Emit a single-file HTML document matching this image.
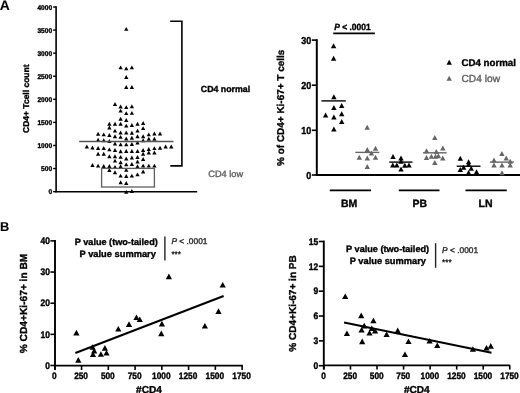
<!DOCTYPE html>
<html><head><meta charset="utf-8"><style>
html,body{margin:0;padding:0;background:#fff;width:520px;height:393px;overflow:hidden;}
svg{display:block;font-family:"Liberation Sans", sans-serif;text-rendering:geometricPrecision;}
body{-webkit-font-smoothing:antialiased;}
.wrap{will-change:transform;}
</style></head><body>
<div class="wrap"><svg width="520" height="393" viewBox="0 0 520 393">
<rect width="520" height="393" fill="#fff"/>
<text x="-0.2" y="9.7" font-size="13.9" font-weight="bold" font-style="normal" text-anchor="start" fill="#000" stroke="#000" stroke-width="0.1" >A</text>
<line x1="56.1" y1="6.3" x2="56.1" y2="192.3" stroke="#000" stroke-width="1.6"/>
<line x1="55.3" y1="191.7" x2="197.2" y2="191.7" stroke="#000" stroke-width="1.5"/>
<line x1="53.1" y1="7.0" x2="56.1" y2="7.0" stroke="#000" stroke-width="1.4"/>
<text x="0" y="0" font-size="6.6" font-weight="bold" font-style="normal" text-anchor="end" fill="#000" stroke="#000" stroke-width="0.35" transform="translate(52.1,9.6) scale(1,1.06)">4000</text>
<line x1="53.1" y1="30.08" x2="56.1" y2="30.08" stroke="#000" stroke-width="1.4"/>
<text x="0" y="0" font-size="6.6" font-weight="bold" font-style="normal" text-anchor="end" fill="#000" stroke="#000" stroke-width="0.35" transform="translate(52.1,32.68) scale(1,1.06)">3500</text>
<line x1="53.1" y1="53.16" x2="56.1" y2="53.16" stroke="#000" stroke-width="1.4"/>
<text x="0" y="0" font-size="6.6" font-weight="bold" font-style="normal" text-anchor="end" fill="#000" stroke="#000" stroke-width="0.35" transform="translate(52.1,55.76) scale(1,1.06)">3000</text>
<line x1="53.1" y1="76.24" x2="56.1" y2="76.24" stroke="#000" stroke-width="1.4"/>
<text x="0" y="0" font-size="6.6" font-weight="bold" font-style="normal" text-anchor="end" fill="#000" stroke="#000" stroke-width="0.35" transform="translate(52.1,78.83999999999999) scale(1,1.06)">2500</text>
<line x1="53.1" y1="99.32" x2="56.1" y2="99.32" stroke="#000" stroke-width="1.4"/>
<text x="0" y="0" font-size="6.6" font-weight="bold" font-style="normal" text-anchor="end" fill="#000" stroke="#000" stroke-width="0.35" transform="translate(52.1,101.91999999999999) scale(1,1.06)">2000</text>
<line x1="53.1" y1="122.39999999999999" x2="56.1" y2="122.39999999999999" stroke="#000" stroke-width="1.4"/>
<text x="0" y="0" font-size="6.6" font-weight="bold" font-style="normal" text-anchor="end" fill="#000" stroke="#000" stroke-width="0.35" transform="translate(52.1,124.99999999999999) scale(1,1.06)">1500</text>
<line x1="53.1" y1="145.48" x2="56.1" y2="145.48" stroke="#000" stroke-width="1.4"/>
<text x="0" y="0" font-size="6.6" font-weight="bold" font-style="normal" text-anchor="end" fill="#000" stroke="#000" stroke-width="0.35" transform="translate(52.1,148.07999999999998) scale(1,1.06)">1000</text>
<line x1="53.1" y1="168.56" x2="56.1" y2="168.56" stroke="#000" stroke-width="1.4"/>
<text x="0" y="0" font-size="6.6" font-weight="bold" font-style="normal" text-anchor="end" fill="#000" stroke="#000" stroke-width="0.35" transform="translate(52.1,171.16) scale(1,1.06)">500</text>
<line x1="53.1" y1="191.64" x2="56.1" y2="191.64" stroke="#000" stroke-width="1.4"/>
<text x="0" y="0" font-size="6.6" font-weight="bold" font-style="normal" text-anchor="end" fill="#000" stroke="#000" stroke-width="0.35" transform="translate(52.1,194.23999999999998) scale(1,1.06)">0</text>
<text x="0" y="0" font-size="8.5" font-weight="bold" font-style="normal" text-anchor="middle" fill="#000" stroke="#000" stroke-width="0.35" transform="translate(29.2,98.7) rotate(-90)">CD4+ Tcell count</text>
<path d="M126.25 26.90L128.40 30.70L124.10 30.70Z" fill="#000"/>
<path d="M120.62 65.50L122.77 69.30L118.47 69.30Z" fill="#000"/>
<path d="M126.25 66.40L128.40 70.20L124.10 70.20Z" fill="#000"/>
<path d="M131.88 65.50L134.03 69.30L129.73 69.30Z" fill="#000"/>
<path d="M126.25 75.10L128.40 78.90L124.10 78.90Z" fill="#000"/>
<path d="M126.25 85.10L128.40 88.90L124.10 88.90Z" fill="#000"/>
<path d="M131.88 85.10L134.03 88.90L129.73 88.90Z" fill="#000"/>
<path d="M114.99 102.10L117.14 105.90L112.84 105.90Z" fill="#000"/>
<path d="M120.62 104.60L122.77 108.40L118.47 108.40Z" fill="#000"/>
<path d="M126.25 105.20L128.40 109.00L124.10 109.00Z" fill="#000"/>
<path d="M131.88 104.35L134.03 108.15L129.73 108.15Z" fill="#000"/>
<path d="M120.62 108.70L122.77 112.50L118.47 112.50Z" fill="#000"/>
<path d="M126.25 111.20L128.40 115.00L124.10 115.00Z" fill="#000"/>
<path d="M131.88 111.00L134.03 114.80L129.73 114.80Z" fill="#000"/>
<path d="M120.62 116.85L122.77 120.65L118.47 120.65Z" fill="#000"/>
<path d="M126.25 118.10L128.40 121.90L124.10 121.90Z" fill="#000"/>
<path d="M109.36 121.85L111.51 125.65L107.21 125.65Z" fill="#000"/>
<path d="M114.99 121.85L117.14 125.65L112.84 125.65Z" fill="#000"/>
<path d="M120.62 121.85L122.77 125.65L118.47 125.65Z" fill="#000"/>
<path d="M126.25 123.70L128.40 127.50L124.10 127.50Z" fill="#000"/>
<path d="M131.88 123.10L134.03 126.90L129.73 126.90Z" fill="#000"/>
<path d="M137.51 121.85L139.66 125.65L135.36 125.65Z" fill="#000"/>
<path d="M143.14 121.10L145.29 124.90L140.99 124.90Z" fill="#000"/>
<path d="M109.36 125.60L111.51 129.40L107.21 129.40Z" fill="#000"/>
<path d="M143.14 126.20L145.29 130.00L140.99 130.00Z" fill="#000"/>
<path d="M114.99 128.70L117.14 132.50L112.84 132.50Z" fill="#000"/>
<path d="M120.62 130.60L122.77 134.40L118.47 134.40Z" fill="#000"/>
<path d="M126.25 130.60L128.40 134.40L124.10 134.40Z" fill="#000"/>
<path d="M131.88 130.85L134.03 134.65L129.73 134.65Z" fill="#000"/>
<path d="M137.51 128.70L139.66 132.50L135.36 132.50Z" fill="#000"/>
<path d="M98.10 131.85L100.25 135.65L95.95 135.65Z" fill="#000"/>
<path d="M103.73 132.50L105.88 136.30L101.58 136.30Z" fill="#000"/>
<path d="M109.36 133.10L111.51 136.90L107.21 136.90Z" fill="#000"/>
<path d="M148.77 132.50L150.92 136.30L146.62 136.30Z" fill="#000"/>
<path d="M154.40 131.60L156.55 135.40L152.25 135.40Z" fill="#000"/>
<path d="M160.03 131.60L162.18 135.40L157.88 135.40Z" fill="#000"/>
<path d="M114.99 134.35L117.14 138.15L112.84 138.15Z" fill="#000"/>
<path d="M120.62 135.00L122.77 138.80L118.47 138.80Z" fill="#000"/>
<path d="M126.25 136.60L128.40 140.40L124.10 140.40Z" fill="#000"/>
<path d="M131.88 135.85L134.03 139.65L129.73 139.65Z" fill="#000"/>
<path d="M137.51 134.35L139.66 138.15L135.36 138.15Z" fill="#000"/>
<path d="M143.14 134.35L145.29 138.15L140.99 138.15Z" fill="#000"/>
<path d="M98.10 137.85L100.25 141.65L95.95 141.65Z" fill="#000"/>
<path d="M103.73 138.35L105.88 142.15L101.58 142.15Z" fill="#000"/>
<path d="M109.36 139.10L111.51 142.90L107.21 142.90Z" fill="#000"/>
<path d="M148.77 136.85L150.92 140.65L146.62 140.65Z" fill="#000"/>
<path d="M154.40 136.85L156.55 140.65L152.25 140.65Z" fill="#000"/>
<path d="M143.14 138.35L145.29 142.15L140.99 142.15Z" fill="#000"/>
<path d="M114.99 141.60L117.14 145.40L112.84 145.40Z" fill="#000"/>
<path d="M120.62 142.50L122.77 146.30L118.47 146.30Z" fill="#000"/>
<path d="M126.25 142.50L128.40 146.30L124.10 146.30Z" fill="#000"/>
<path d="M131.88 142.10L134.03 145.90L129.73 145.90Z" fill="#000"/>
<path d="M137.51 140.60L139.66 144.40L135.36 144.40Z" fill="#000"/>
<path d="M86.84 144.60L88.99 148.40L84.69 148.40Z" fill="#000"/>
<path d="M92.47 145.60L94.62 149.40L90.32 149.40Z" fill="#000"/>
<path d="M98.10 146.10L100.25 149.90L95.95 149.90Z" fill="#000"/>
<path d="M103.73 146.10L105.88 149.90L101.58 149.90Z" fill="#000"/>
<path d="M109.36 147.50L111.51 151.30L107.21 151.30Z" fill="#000"/>
<path d="M165.66 144.60L167.81 148.40L163.51 148.40Z" fill="#000"/>
<path d="M171.29 144.60L173.44 148.40L169.14 148.40Z" fill="#000"/>
<path d="M160.03 145.85L162.18 149.65L157.88 149.65Z" fill="#000"/>
<path d="M154.40 146.20L156.55 150.00L152.25 150.00Z" fill="#000"/>
<path d="M148.77 147.10L150.92 150.90L146.62 150.90Z" fill="#000"/>
<path d="M143.14 148.10L145.29 151.90L140.99 151.90Z" fill="#000"/>
<path d="M114.99 148.10L117.14 151.90L112.84 151.90Z" fill="#000"/>
<path d="M120.62 149.35L122.77 153.15L118.47 153.15Z" fill="#000"/>
<path d="M126.25 149.10L128.40 152.90L124.10 152.90Z" fill="#000"/>
<path d="M131.88 149.10L134.03 152.90L129.73 152.90Z" fill="#000"/>
<path d="M137.51 149.10L139.66 152.90L135.36 152.90Z" fill="#000"/>
<path d="M98.10 151.85L100.25 155.65L95.95 155.65Z" fill="#000"/>
<path d="M103.73 151.85L105.88 155.65L101.58 155.65Z" fill="#000"/>
<path d="M143.14 151.85L145.29 155.65L140.99 155.65Z" fill="#000"/>
<path d="M148.77 150.60L150.92 154.40L146.62 154.40Z" fill="#000"/>
<path d="M154.40 150.60L156.55 154.40L152.25 154.40Z" fill="#000"/>
<path d="M109.36 154.35L111.51 158.15L107.21 158.15Z" fill="#000"/>
<path d="M114.99 154.35L117.14 158.15L112.84 158.15Z" fill="#000"/>
<path d="M120.62 155.00L122.77 158.80L118.47 158.80Z" fill="#000"/>
<path d="M126.25 156.60L128.40 160.40L124.10 160.40Z" fill="#000"/>
<path d="M131.88 155.60L134.03 159.40L129.73 159.40Z" fill="#000"/>
<path d="M137.51 155.10L139.66 158.90L135.36 158.90Z" fill="#000"/>
<path d="M143.14 157.10L145.29 160.90L140.99 160.90Z" fill="#000"/>
<path d="M114.99 158.70L117.14 162.50L112.84 162.50Z" fill="#000"/>
<path d="M120.62 160.35L122.77 164.15L118.47 164.15Z" fill="#000"/>
<path d="M126.25 162.50L128.40 166.30L124.10 166.30Z" fill="#000"/>
<path d="M131.88 162.10L134.03 165.90L129.73 165.90Z" fill="#000"/>
<path d="M137.51 159.60L139.66 163.40L135.36 163.40Z" fill="#000"/>
<path d="M92.47 163.10L94.62 166.90L90.32 166.90Z" fill="#000"/>
<path d="M98.10 163.70L100.25 167.50L95.95 167.50Z" fill="#000"/>
<path d="M103.73 164.10L105.88 167.90L101.58 167.90Z" fill="#000"/>
<path d="M109.36 164.10L111.51 167.90L107.21 167.90Z" fill="#000"/>
<path d="M114.99 165.00L117.14 168.80L112.84 168.80Z" fill="#000"/>
<path d="M120.62 164.35L122.77 168.15L118.47 168.15Z" fill="#000"/>
<path d="M137.51 164.35L139.66 168.15L135.36 168.15Z" fill="#000"/>
<path d="M143.14 163.70L145.29 167.50L140.99 167.50Z" fill="#000"/>
<path d="M148.77 163.70L150.92 167.50L146.62 167.50Z" fill="#000"/>
<path d="M154.40 163.70L156.55 167.50L152.25 167.50Z" fill="#000"/>
<path d="M109.36 168.10L111.51 171.90L107.21 171.90Z" fill="#000"/>
<path d="M126.25 167.85L128.40 171.65L124.10 171.65Z" fill="#000"/>
<path d="M114.99 170.35L117.14 174.15L112.84 174.15Z" fill="#000"/>
<path d="M143.14 169.60L145.29 173.40L140.99 173.40Z" fill="#000"/>
<path d="M120.62 173.70L122.77 177.50L118.47 177.50Z" fill="#000"/>
<path d="M126.25 174.10L128.40 177.90L124.10 177.90Z" fill="#000"/>
<path d="M131.88 173.70L134.03 177.50L129.73 177.50Z" fill="#000"/>
<path d="M137.51 172.50L139.66 176.30L135.36 176.30Z" fill="#000"/>
<path d="M120.62 180.35L122.77 184.15L118.47 184.15Z" fill="#000"/>
<path d="M126.25 181.10L128.40 184.90L124.10 184.90Z" fill="#000"/>
<path d="M126.25 190.00L128.40 193.80L124.10 193.80Z" fill="#000"/>
<path d="M131.88 189.10L134.03 192.90L129.73 192.90Z" fill="#000"/>
<line x1="79.2" y1="141.5" x2="173.5" y2="141.5" stroke="#555" stroke-width="1.3"/>
<rect x="101.6" y="168.4" width="52.8" height="18.6" fill="none" stroke="#5e5e5e" stroke-width="1.3"/>
<path d="M170.2 21.2H181.9V165.9H170.3" fill="none" stroke="#000" stroke-width="1.6"/>
<text x="200.79999999999998" y="91.5" font-size="8.8" font-weight="bold" font-style="normal" text-anchor="start" fill="#000" stroke="#000" stroke-width="0.35" >CD4 normal</text>
<text x="208.29999999999998" y="176.5" font-size="9.2" font-weight="normal" font-style="normal" text-anchor="start" fill="#606060" stroke="#606060" stroke-width="0.35" >CD4 low</text>
<line x1="316.8" y1="39.2" x2="316.8" y2="175.6" stroke="#000" stroke-width="2.0"/>
<line x1="315.8" y1="174.9" x2="520" y2="174.9" stroke="#000" stroke-width="2.0"/>
<line x1="311.8" y1="40.1" x2="316.8" y2="40.1" stroke="#000" stroke-width="1.6"/>
<text x="0" y="0" font-size="9.0" font-weight="bold" font-style="normal" text-anchor="end" fill="#000" stroke="#000" stroke-width="0.35" transform="translate(311.2,43.800000000000004) scale(1,1.12)">30</text>
<line x1="311.8" y1="85.2" x2="316.8" y2="85.2" stroke="#000" stroke-width="1.6"/>
<text x="0" y="0" font-size="9.0" font-weight="bold" font-style="normal" text-anchor="end" fill="#000" stroke="#000" stroke-width="0.35" transform="translate(311.2,88.9) scale(1,1.12)">20</text>
<line x1="311.8" y1="130.3" x2="316.8" y2="130.3" stroke="#000" stroke-width="1.6"/>
<text x="0" y="0" font-size="9.0" font-weight="bold" font-style="normal" text-anchor="end" fill="#000" stroke="#000" stroke-width="0.35" transform="translate(311.2,134.0) scale(1,1.12)">10</text>
<line x1="311.8" y1="175.0" x2="316.8" y2="175.0" stroke="#000" stroke-width="1.6"/>
<text x="0" y="0" font-size="9.0" font-weight="bold" font-style="normal" text-anchor="end" fill="#000" stroke="#000" stroke-width="0.35" transform="translate(311.2,178.7) scale(1,1.12)">0</text>
<text x="0" y="0" font-size="9.96" font-weight="bold" font-style="normal" text-anchor="middle" fill="#000" stroke="#000" stroke-width="0.35" transform="translate(283.8,107.8) rotate(-90)">% of CD4+ Ki-67+ T cells</text>
<text x="0" y="0" font-size="8.45" font-weight="bold" font-style="normal" text-anchor="start" fill="#000" stroke="#000" stroke-width="0.35" transform="translate(334.2,29.8) scale(1,1.06)"><tspan font-style="italic">P</tspan> &lt; .0001</text>
<line x1="333.3" y1="33.4" x2="374.9" y2="33.4" stroke="#000" stroke-width="1.6"/>
<line x1="329.8" y1="190.3" x2="371" y2="190.3" stroke="#000" stroke-width="1.8"/>
<text x="349.1" y="206.8" font-size="10.5" font-weight="bold" font-style="normal" text-anchor="middle" fill="#000" stroke="#000" stroke-width="0.35" >BM</text>
<line x1="398.8" y1="190.3" x2="439.5" y2="190.3" stroke="#000" stroke-width="1.8"/>
<text x="419.75" y="206.8" font-size="10.5" font-weight="bold" font-style="normal" text-anchor="middle" fill="#000" stroke="#000" stroke-width="0.35" >PB</text>
<line x1="465.5" y1="190.3" x2="506.8" y2="190.3" stroke="#000" stroke-width="1.8"/>
<text x="485.6" y="206.8" font-size="10.5" font-weight="bold" font-style="normal" text-anchor="middle" fill="#000" stroke="#000" stroke-width="0.35" >LN</text>
<path d="M449.20 59.80L451.90 64.80L446.50 64.80Z" fill="#000"/>
<text x="461.4" y="65.5" font-size="9.73" font-weight="bold" font-style="normal" text-anchor="start" fill="#000" stroke="#000" stroke-width="0.35" >CD4 normal</text>
<path d="M449.20 75.80L451.90 80.80L446.50 80.80Z" fill="#666"/>
<text x="461.5" y="81.5" font-size="10.2" font-weight="normal" font-style="normal" text-anchor="start" fill="#606060" stroke="#606060" stroke-width="0.35" >CD4 low</text>
<line x1="321.4" y1="100.9" x2="345.8" y2="100.9" stroke="#000" stroke-width="1.4"/>
<path d="M333.60 43.25L336.30 48.25L330.90 48.25Z" fill="#000"/>
<path d="M333.60 55.70L336.30 60.70L330.90 60.70Z" fill="#000"/>
<path d="M333.90 94.30L336.60 99.30L331.20 99.30Z" fill="#000"/>
<path d="M341.70 102.90L344.40 107.90L339.00 107.90Z" fill="#000"/>
<path d="M333.90 105.10L336.60 110.10L331.20 110.10Z" fill="#000"/>
<path d="M341.70 111.30L344.40 116.30L339.00 116.30Z" fill="#000"/>
<path d="M325.60 112.40L328.30 117.40L322.90 117.40Z" fill="#000"/>
<path d="M333.90 114.60L336.60 119.60L331.20 119.60Z" fill="#000"/>
<path d="M341.70 118.90L344.40 123.90L339.00 123.90Z" fill="#000"/>
<path d="M333.90 126.40L336.60 131.40L331.20 131.40Z" fill="#000"/>
<line x1="355.3" y1="152.4" x2="379.3" y2="152.4" stroke="#666" stroke-width="1.4"/>
<path d="M367.20 124.80L369.90 129.80L364.50 129.80Z" fill="#666"/>
<path d="M367.30 146.90L370.00 151.90L364.60 151.90Z" fill="#666"/>
<path d="M375.50 145.70L378.20 150.70L372.80 150.70Z" fill="#666"/>
<path d="M371.40 150.60L374.10 155.60L368.70 155.60Z" fill="#666"/>
<path d="M359.30 154.70L362.00 159.70L356.60 159.70Z" fill="#666"/>
<path d="M367.30 155.50L370.00 160.50L364.60 160.50Z" fill="#666"/>
<path d="M375.50 154.70L378.20 159.70L372.80 159.70Z" fill="#666"/>
<path d="M367.30 164.00L370.00 169.00L364.60 169.00Z" fill="#666"/>
<line x1="389.3" y1="162.1" x2="412.5" y2="162.1" stroke="#000" stroke-width="1.4"/>
<path d="M393.00 154.10L395.70 159.10L390.30 159.10Z" fill="#000"/>
<path d="M401.00 155.40L403.70 160.40L398.30 160.40Z" fill="#000"/>
<path d="M401.00 158.80L403.70 163.80L398.30 163.80Z" fill="#000"/>
<path d="M392.80 162.40L395.50 167.40L390.10 167.40Z" fill="#000"/>
<path d="M396.80 162.40L399.50 167.40L394.10 167.40Z" fill="#000"/>
<path d="M404.80 162.70L407.50 167.70L402.10 167.70Z" fill="#000"/>
<path d="M409.00 162.40L411.70 167.40L406.30 167.40Z" fill="#000"/>
<path d="M401.00 166.50L403.70 171.50L398.30 171.50Z" fill="#000"/>
<line x1="422.9" y1="152.8" x2="446.6" y2="152.8" stroke="#666" stroke-width="1.4"/>
<path d="M434.80 134.90L437.50 139.90L432.10 139.90Z" fill="#666"/>
<path d="M442.80 145.60L445.50 150.60L440.10 150.60Z" fill="#666"/>
<path d="M426.50 148.30L429.20 153.30L423.80 153.30Z" fill="#666"/>
<path d="M436.30 149.00L439.00 154.00L433.60 154.00Z" fill="#666"/>
<path d="M435.50 153.80L438.20 158.80L432.80 158.80Z" fill="#666"/>
<path d="M431.40 153.70L434.10 158.70L428.70 158.70Z" fill="#666"/>
<path d="M438.40 153.20L441.10 158.20L435.70 158.20Z" fill="#666"/>
<path d="M426.50 155.00L429.20 160.00L423.80 160.00Z" fill="#666"/>
<path d="M442.80 155.40L445.50 160.40L440.10 160.40Z" fill="#666"/>
<path d="M434.80 159.90L437.50 164.90L432.10 164.90Z" fill="#666"/>
<line x1="456.7" y1="166.2" x2="480.5" y2="166.2" stroke="#000" stroke-width="1.4"/>
<path d="M460.30 155.80L463.00 160.80L457.60 160.80Z" fill="#000"/>
<path d="M468.60 159.30L471.30 164.30L465.90 164.30Z" fill="#000"/>
<path d="M468.60 162.00L471.30 167.00L465.90 167.00Z" fill="#000"/>
<path d="M463.60 164.80L466.30 169.80L460.90 169.80Z" fill="#000"/>
<path d="M460.30 167.00L463.00 172.00L457.60 172.00Z" fill="#000"/>
<path d="M471.20 165.80L473.90 170.80L468.50 170.80Z" fill="#000"/>
<path d="M468.60 169.90L471.30 174.90L465.90 174.90Z" fill="#000"/>
<path d="M476.50 169.20L479.20 174.20L473.80 174.20Z" fill="#000"/>
<line x1="489.9" y1="162.1" x2="513.9" y2="162.1" stroke="#666" stroke-width="1.4"/>
<path d="M501.90 151.10L504.60 156.10L499.20 156.10Z" fill="#666"/>
<path d="M506.20 155.60L508.90 160.60L503.50 160.60Z" fill="#666"/>
<path d="M494.00 157.60L496.70 162.60L491.30 162.60Z" fill="#666"/>
<path d="M510.20 158.80L512.90 163.80L507.50 163.80Z" fill="#666"/>
<path d="M494.00 162.50L496.70 167.50L491.30 167.50Z" fill="#666"/>
<path d="M502.00 162.50L504.70 167.50L499.30 167.50Z" fill="#666"/>
<path d="M510.20 162.50L512.90 167.50L507.50 167.50Z" fill="#666"/>
<path d="M502.00 170.20L504.70 175.20L499.30 175.20Z" fill="#666"/>
<text x="0.0" y="231.0" font-size="12.8" font-weight="bold" font-style="normal" text-anchor="start" fill="#000" stroke="#000" stroke-width="0.1" >B</text>
<line x1="55.0" y1="240.0" x2="55.0" y2="370.0" stroke="#000" stroke-width="1.9"/>
<line x1="55.0" y1="365.6" x2="242.8" y2="365.6" stroke="#000" stroke-width="1.8"/>
<line x1="50.4" y1="240.89999999999998" x2="55.0" y2="240.89999999999998" stroke="#000" stroke-width="1.6"/>
<text x="0" y="0" font-size="8.5" font-weight="bold" font-style="normal" text-anchor="end" fill="#000" stroke="#000" stroke-width="0.35" transform="translate(50.0,244.09999999999997) scale(1,1.12)">40</text>
<line x1="50.4" y1="272.05" x2="55.0" y2="272.05" stroke="#000" stroke-width="1.6"/>
<text x="0" y="0" font-size="8.5" font-weight="bold" font-style="normal" text-anchor="end" fill="#000" stroke="#000" stroke-width="0.35" transform="translate(50.0,275.25) scale(1,1.12)">30</text>
<line x1="50.4" y1="303.2" x2="55.0" y2="303.2" stroke="#000" stroke-width="1.6"/>
<text x="0" y="0" font-size="8.5" font-weight="bold" font-style="normal" text-anchor="end" fill="#000" stroke="#000" stroke-width="0.35" transform="translate(50.0,306.4) scale(1,1.12)">20</text>
<line x1="50.4" y1="334.35" x2="55.0" y2="334.35" stroke="#000" stroke-width="1.6"/>
<text x="0" y="0" font-size="8.5" font-weight="bold" font-style="normal" text-anchor="end" fill="#000" stroke="#000" stroke-width="0.35" transform="translate(50.0,337.55) scale(1,1.12)">10</text>
<line x1="50.4" y1="365.5" x2="55.0" y2="365.5" stroke="#000" stroke-width="1.6"/>
<text x="0" y="0" font-size="8.5" font-weight="bold" font-style="normal" text-anchor="end" fill="#000" stroke="#000" stroke-width="0.35" transform="translate(50.0,368.7) scale(1,1.12)">0</text>
<line x1="54.8" y1="365.6" x2="54.8" y2="370.0" stroke="#000" stroke-width="1.6"/>
<text x="0" y="0" font-size="8.3" font-weight="bold" font-style="normal" text-anchor="middle" fill="#000" stroke="#000" stroke-width="0.35" transform="translate(54.3,378.7) scale(1,1.12)">0</text>
<line x1="81.5575" y1="365.6" x2="81.5575" y2="370.0" stroke="#000" stroke-width="1.6"/>
<text x="0" y="0" font-size="8.3" font-weight="bold" font-style="normal" text-anchor="middle" fill="#000" stroke="#000" stroke-width="0.35" transform="translate(81.0575,378.7) scale(1,1.12)">250</text>
<line x1="108.315" y1="365.6" x2="108.315" y2="370.0" stroke="#000" stroke-width="1.6"/>
<text x="0" y="0" font-size="8.3" font-weight="bold" font-style="normal" text-anchor="middle" fill="#000" stroke="#000" stroke-width="0.35" transform="translate(107.815,378.7) scale(1,1.12)">500</text>
<line x1="135.0725" y1="365.6" x2="135.0725" y2="370.0" stroke="#000" stroke-width="1.6"/>
<text x="0" y="0" font-size="8.3" font-weight="bold" font-style="normal" text-anchor="middle" fill="#000" stroke="#000" stroke-width="0.35" transform="translate(134.5725,378.7) scale(1,1.12)">750</text>
<line x1="161.82999999999998" y1="365.6" x2="161.82999999999998" y2="370.0" stroke="#000" stroke-width="1.6"/>
<text x="0" y="0" font-size="8.3" font-weight="bold" font-style="normal" text-anchor="middle" fill="#000" stroke="#000" stroke-width="0.35" transform="translate(161.32999999999998,378.7) scale(1,1.12)">1000</text>
<line x1="188.58749999999998" y1="365.6" x2="188.58749999999998" y2="370.0" stroke="#000" stroke-width="1.6"/>
<text x="0" y="0" font-size="8.3" font-weight="bold" font-style="normal" text-anchor="middle" fill="#000" stroke="#000" stroke-width="0.35" transform="translate(188.08749999999998,378.7) scale(1,1.12)">1250</text>
<line x1="215.34499999999997" y1="365.6" x2="215.34499999999997" y2="370.0" stroke="#000" stroke-width="1.6"/>
<text x="0" y="0" font-size="8.3" font-weight="bold" font-style="normal" text-anchor="middle" fill="#000" stroke="#000" stroke-width="0.35" transform="translate(214.84499999999997,378.7) scale(1,1.12)">1500</text>
<line x1="242.10250000000002" y1="365.6" x2="242.10250000000002" y2="370.0" stroke="#000" stroke-width="1.6"/>
<text x="0" y="0" font-size="8.3" font-weight="bold" font-style="normal" text-anchor="middle" fill="#000" stroke="#000" stroke-width="0.35" transform="translate(241.60250000000002,378.7) scale(1,1.12)">1750</text>
<text x="149.0" y="392.8" font-size="10.1" font-weight="bold" font-style="normal" text-anchor="middle" fill="#000" stroke="#000" stroke-width="0.35" >#CD4</text>
<text x="0" y="0" font-size="10.2" font-weight="bold" font-style="normal" text-anchor="middle" fill="#000" stroke="#000" stroke-width="0.35" transform="translate(27.0,303.5) rotate(-90)">% CD4+Ki-67+ in BM</text>
<text x="157.8" y="244.8" font-size="9.14" font-weight="bold" font-style="normal" text-anchor="end" fill="#000" stroke="#000" stroke-width="0.35" >P value (two-tailed)</text>
<text x="155.9" y="256.5" font-size="9.3" font-weight="bold" font-style="normal" text-anchor="end" fill="#000" stroke="#000" stroke-width="0.35" >P value summary</text>
<line x1="164.9" y1="236.5" x2="164.9" y2="260.5" stroke="#222" stroke-width="1.4"/>
<text x="171.4" y="244.3" font-size="8.4" font-weight="normal" font-style="normal" text-anchor="start" fill="#2a2a2a" stroke="#2a2a2a" stroke-width="0.35" ><tspan font-style="italic">P</tspan> &lt; .0001</text>
<text x="171.4" y="256.5" font-size="8.2" font-weight="normal" font-style="normal" text-anchor="start" fill="#1a1a1a" stroke="#1a1a1a" stroke-width="0.35" >***</text>
<line x1="75.4" y1="353.0" x2="223.6" y2="296.1" stroke="#000" stroke-width="2.1"/>
<path d="M76.40 329.80L79.50 335.40L73.30 335.40Z" fill="#000"/>
<path d="M78.30 357.10L81.40 362.70L75.20 362.70Z" fill="#000"/>
<path d="M92.60 344.20L95.70 349.80L89.50 349.80Z" fill="#000"/>
<path d="M94.20 347.80L97.30 353.40L91.10 353.40Z" fill="#000"/>
<path d="M93.00 351.40L96.10 357.00L89.90 357.00Z" fill="#000"/>
<path d="M100.90 351.20L104.00 356.80L97.80 356.80Z" fill="#000"/>
<path d="M104.90 345.10L108.00 350.70L101.80 350.70Z" fill="#000"/>
<path d="M106.50 350.00L109.60 355.60L103.40 355.60Z" fill="#000"/>
<path d="M118.30 326.00L121.40 331.60L115.20 331.60Z" fill="#000"/>
<path d="M129.00 321.30L132.10 326.90L125.90 326.90Z" fill="#000"/>
<path d="M136.50 314.40L139.60 320.00L133.40 320.00Z" fill="#000"/>
<path d="M139.80 316.40L142.90 322.00L136.70 322.00Z" fill="#000"/>
<path d="M161.90 320.80L165.00 326.40L158.80 326.40Z" fill="#000"/>
<path d="M161.30 330.60L164.40 336.20L158.20 336.20Z" fill="#000"/>
<path d="M168.90 273.60L172.00 279.20L165.80 279.20Z" fill="#000"/>
<path d="M222.70 281.90L225.80 287.50L219.60 287.50Z" fill="#000"/>
<path d="M218.50 308.30L221.60 313.90L215.40 313.90Z" fill="#000"/>
<path d="M204.90 322.90L208.00 328.50L201.80 328.50Z" fill="#000"/>
<line x1="323.8" y1="240.6" x2="323.8" y2="369.6" stroke="#000" stroke-width="1.9"/>
<line x1="323.8" y1="365.3" x2="510.1" y2="365.3" stroke="#000" stroke-width="1.8"/>
<line x1="318.8" y1="241.5" x2="323.8" y2="241.5" stroke="#000" stroke-width="1.6"/>
<text x="0" y="0" font-size="8.5" font-weight="bold" font-style="normal" text-anchor="end" fill="#000" stroke="#000" stroke-width="0.35" transform="translate(318.3,244.7) scale(1,1.12)">15</text>
<line x1="318.8" y1="266.34" x2="323.8" y2="266.34" stroke="#000" stroke-width="1.6"/>
<text x="0" y="0" font-size="8.5" font-weight="bold" font-style="normal" text-anchor="end" fill="#000" stroke="#000" stroke-width="0.35" transform="translate(318.3,269.53999999999996) scale(1,1.12)">12</text>
<line x1="318.8" y1="291.18" x2="323.8" y2="291.18" stroke="#000" stroke-width="1.6"/>
<text x="0" y="0" font-size="8.5" font-weight="bold" font-style="normal" text-anchor="end" fill="#000" stroke="#000" stroke-width="0.35" transform="translate(318.3,294.38) scale(1,1.12)">9</text>
<line x1="318.8" y1="316.02" x2="323.8" y2="316.02" stroke="#000" stroke-width="1.6"/>
<text x="0" y="0" font-size="8.5" font-weight="bold" font-style="normal" text-anchor="end" fill="#000" stroke="#000" stroke-width="0.35" transform="translate(318.3,319.21999999999997) scale(1,1.12)">6</text>
<line x1="318.8" y1="340.86" x2="323.8" y2="340.86" stroke="#000" stroke-width="1.6"/>
<text x="0" y="0" font-size="8.5" font-weight="bold" font-style="normal" text-anchor="end" fill="#000" stroke="#000" stroke-width="0.35" transform="translate(318.3,344.06) scale(1,1.12)">3</text>
<line x1="318.8" y1="365.7" x2="323.8" y2="365.7" stroke="#000" stroke-width="1.6"/>
<text x="0" y="0" font-size="8.5" font-weight="bold" font-style="normal" text-anchor="end" fill="#000" stroke="#000" stroke-width="0.35" transform="translate(318.3,368.9) scale(1,1.12)">0</text>
<line x1="323.9" y1="365.3" x2="323.9" y2="369.6" stroke="#000" stroke-width="1.6"/>
<text x="0" y="0" font-size="8.3" font-weight="bold" font-style="normal" text-anchor="middle" fill="#000" stroke="#000" stroke-width="0.35" transform="translate(323.59999999999997,378.6) scale(1,1.12)">0</text>
<line x1="350.4575" y1="365.3" x2="350.4575" y2="369.6" stroke="#000" stroke-width="1.6"/>
<text x="0" y="0" font-size="8.3" font-weight="bold" font-style="normal" text-anchor="middle" fill="#000" stroke="#000" stroke-width="0.35" transform="translate(350.15749999999997,378.6) scale(1,1.12)">250</text>
<line x1="377.015" y1="365.3" x2="377.015" y2="369.6" stroke="#000" stroke-width="1.6"/>
<text x="0" y="0" font-size="8.3" font-weight="bold" font-style="normal" text-anchor="middle" fill="#000" stroke="#000" stroke-width="0.35" transform="translate(376.715,378.6) scale(1,1.12)">500</text>
<line x1="403.5725" y1="365.3" x2="403.5725" y2="369.6" stroke="#000" stroke-width="1.6"/>
<text x="0" y="0" font-size="8.3" font-weight="bold" font-style="normal" text-anchor="middle" fill="#000" stroke="#000" stroke-width="0.35" transform="translate(403.2725,378.6) scale(1,1.12)">750</text>
<line x1="430.13" y1="365.3" x2="430.13" y2="369.6" stroke="#000" stroke-width="1.6"/>
<text x="0" y="0" font-size="8.3" font-weight="bold" font-style="normal" text-anchor="middle" fill="#000" stroke="#000" stroke-width="0.35" transform="translate(429.83,378.6) scale(1,1.12)">1000</text>
<line x1="456.6875" y1="365.3" x2="456.6875" y2="369.6" stroke="#000" stroke-width="1.6"/>
<text x="0" y="0" font-size="8.3" font-weight="bold" font-style="normal" text-anchor="middle" fill="#000" stroke="#000" stroke-width="0.35" transform="translate(456.3875,378.6) scale(1,1.12)">1250</text>
<line x1="483.245" y1="365.3" x2="483.245" y2="369.6" stroke="#000" stroke-width="1.6"/>
<text x="0" y="0" font-size="8.3" font-weight="bold" font-style="normal" text-anchor="middle" fill="#000" stroke="#000" stroke-width="0.35" transform="translate(482.945,378.6) scale(1,1.12)">1500</text>
<line x1="509.8025" y1="365.3" x2="509.8025" y2="369.6" stroke="#000" stroke-width="1.6"/>
<text x="0" y="0" font-size="8.3" font-weight="bold" font-style="normal" text-anchor="middle" fill="#000" stroke="#000" stroke-width="0.35" transform="translate(509.5025,378.6) scale(1,1.12)">1750</text>
<text x="416.8" y="392.6" font-size="10.1" font-weight="bold" font-style="normal" text-anchor="middle" fill="#000" stroke="#000" stroke-width="0.35" >#CD4</text>
<text x="0" y="0" font-size="10.06" font-weight="bold" font-style="normal" text-anchor="middle" fill="#000" stroke="#000" stroke-width="0.35" transform="translate(295.7,303.5) rotate(-90)">% CD4+Ki-67+ in PB</text>
<text x="429.1" y="252.1" font-size="9.14" font-weight="bold" font-style="normal" text-anchor="end" fill="#000" stroke="#000" stroke-width="0.35" >P value (two-tailed)</text>
<text x="426.0" y="263.7" font-size="9.3" font-weight="bold" font-style="normal" text-anchor="end" fill="#000" stroke="#000" stroke-width="0.35" >P value summary</text>
<line x1="435.6" y1="243.2" x2="435.6" y2="267.8" stroke="#222" stroke-width="1.4"/>
<text x="442.1" y="252.5" font-size="8.4" font-weight="normal" font-style="normal" text-anchor="start" fill="#2a2a2a" stroke="#2a2a2a" stroke-width="0.35" ><tspan font-style="italic">P</tspan> &lt; .0001</text>
<text x="442.1" y="264.5" font-size="8.2" font-weight="normal" font-style="normal" text-anchor="start" fill="#1a1a1a" stroke="#1a1a1a" stroke-width="0.35" >***</text>
<line x1="344.1" y1="322.5" x2="491.5" y2="352.7" stroke="#000" stroke-width="2.0"/>
<path d="M361.20 312.60L364.30 318.20L358.10 318.20Z" fill="#000"/>
<path d="M373.40 317.70L376.50 323.30L370.30 323.30Z" fill="#000"/>
<path d="M364.20 322.80L367.30 328.40L361.10 328.40Z" fill="#000"/>
<path d="M361.60 326.90L364.70 332.50L358.50 332.50Z" fill="#000"/>
<path d="M371.80 325.40L374.90 331.00L368.70 331.00Z" fill="#000"/>
<path d="M369.50 330.00L372.60 335.60L366.40 335.60Z" fill="#000"/>
<path d="M375.10 327.90L378.20 333.50L372.00 333.50Z" fill="#000"/>
<path d="M346.90 330.50L350.00 336.10L343.80 336.10Z" fill="#000"/>
<path d="M386.60 331.50L389.70 337.10L383.50 337.10Z" fill="#000"/>
<path d="M362.20 338.60L365.30 344.20L359.10 344.20Z" fill="#000"/>
<path d="M472.90 346.20L476.00 351.80L469.80 351.80Z" fill="#000"/>
<path d="M486.50 345.00L489.60 350.60L483.40 350.60Z" fill="#000"/>
<path d="M490.80 343.10L493.90 348.70L487.70 348.70Z" fill="#000"/>
<path d="M345.20 293.40L348.30 299.00L342.10 299.00Z" fill="#000"/>
<path d="M397.70 327.60L400.80 333.20L394.60 333.20Z" fill="#000"/>
<path d="M408.50 338.50L411.60 344.10L405.40 344.10Z" fill="#000"/>
<path d="M405.00 351.40L408.10 357.00L401.90 357.00Z" fill="#000"/>
<path d="M429.60 338.00L432.70 343.60L426.50 343.60Z" fill="#000"/>
<path d="M437.30 342.40L440.40 348.00L434.20 348.00Z" fill="#000"/>
</svg></div>
</body></html>
